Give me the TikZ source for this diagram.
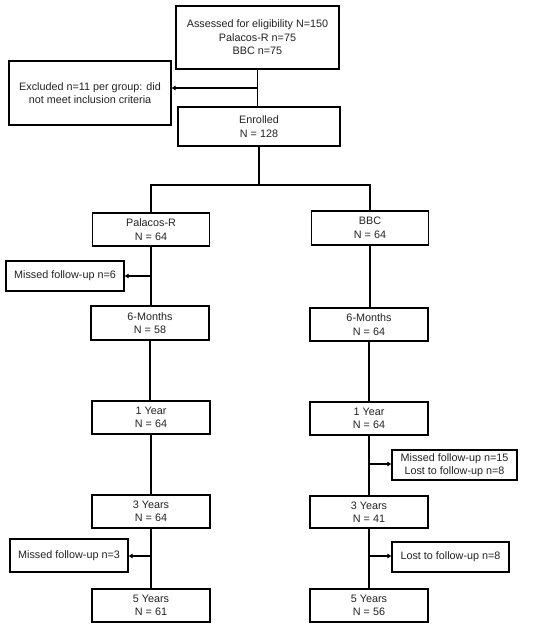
\documentclass[tikz,border=0pt]{standalone}
\usepackage{fontspec}
\setmainfont{Liberation Sans}
\usetikzlibrary{arrows.meta,calc}
\definecolor{txt}{RGB}{35,35,35}
\begin{document}
\begin{tikzpicture}[x=1bp,y=-1bp,
  box/.style={draw=black,line width=1.4pt,inner sep=0pt,align=center,text=txt,
    font=\fontsize{10.8bp}{13.5bp}\selectfont},
  ln/.style={draw=black,line width=1.2pt},
  arr/.style={ln,-{Triangle[length=4pt,width=4.5pt]}}]
\useasboundingbox[fill=white] (0,0) rectangle (550,630);
\node[box,minimum width=163bp,minimum height=63bp] (assess) at (257.5,37.5) {Assessed for eligibility N=150\\Palacos-R n=75\\BBC n=75};
\node[box,minimum width=162bp,minimum height=64bp] (excl) at (90,93) {Excluded n=11 per group: did\\not meet inclusion criteria};
\node[box,minimum width=162bp,minimum height=39bp] (enrol) at (259,126.5) {Enrolled\\N = 128};
\node[box,minimum width=117bp,minimum height=33bp] (pal) at (151,229.5) {Palacos-R\\N = 64};
\node[box,minimum width=117bp,minimum height=34bp] (bbc) at (370,228) {BBC\\N = 64};
\node[box,minimum width=118bp,minimum height=30bp] (miss6) at (65,276) {Missed follow-up n=6};
\node[box,minimum width=118bp,minimum height=34bp] (m6L) at (150,323) {6-Months\\N = 58};
\node[box,minimum width=118bp,minimum height=33bp] (m6R) at (369,324.5) {6-Months\\N = 64};
\node[box,minimum width=118bp,minimum height=33bp] (y1L) at (151,417.5) {1 Year\\N = 64};
\node[box,minimum width=118bp,minimum height=33bp] (y1R) at (369,418.5) {1 Year\\N = 64};
\node[box,minimum width=125bp,minimum height=30bp] (miss15) at (454.5,465) {Missed follow-up n=15\\Lost to follow-up n=8};
\node[box,minimum width=118bp,minimum height=33bp] (y3L) at (151,511.5) {3 Years\\N = 64};
\node[box,minimum width=118bp,minimum height=32bp] (y3R) at (369,512) {3 Years\\N = 41};
\node[box,minimum width=118bp,minimum height=33bp] (miss3) at (69,555.5) {Missed follow-up n=3};
\node[box,minimum width=117bp,minimum height=30bp] (lost8) at (450.5,557) {Lost to follow-up n=8};
\node[box,minimum width=118bp,minimum height=33bp] (y5L) at (151,605.5) {5 Years\\N = 61};
\node[box,minimum width=118bp,minimum height=33bp] (y5R) at (369,605.5) {5 Years\\N = 56};
% connectors
\coordinate (split) at (259,185);
\coordinate (c1) at ($(assess.south)!0.5!(enrol.north)$);
\coordinate (c2) at ($(pal.south)!0.5!(m6L.north)$);
\coordinate (c3) at (369,464);
\coordinate (c4) at (151,556);
\coordinate (c5) at (369,556);
\draw[ln] (assess.south) -- (assess.south |- enrol.north);
\draw[arr] (c1) -- (c1 -| excl.east);
\draw[ln] (enrol.south) -- (split);
\draw[ln] (pal.north) |- (split) -| (bbc.north);
\draw[ln] (pal.south) -- (pal.south |- m6L.north);
\draw[arr] (c2) -- (c2 -| miss6.east);
\draw[ln] (bbc.south) -- (bbc.south |- m6R.north);
\draw[ln] (m6L.south) -- (m6L.south |- y1L.north);
\draw[ln] (m6R.south) -- (m6R.south |- y1R.north);
\draw[ln] (y1L.south) -- (y1L.south |- y3L.north);
\draw[ln] (y1R.south) -- (y1R.south |- y3R.north);
\draw[arr] (c3) -- (c3 -| miss15.west);
\draw[ln] (y3L.south) -- (y3L.south |- y5L.north);
\draw[arr] (c4) -- (c4 -| miss3.east);
\draw[ln] (y3R.south) -- (y3R.south |- y5R.north);
\draw[arr] (c5) -- (c5 -| lost8.west);
\end{tikzpicture}
\end{document}
